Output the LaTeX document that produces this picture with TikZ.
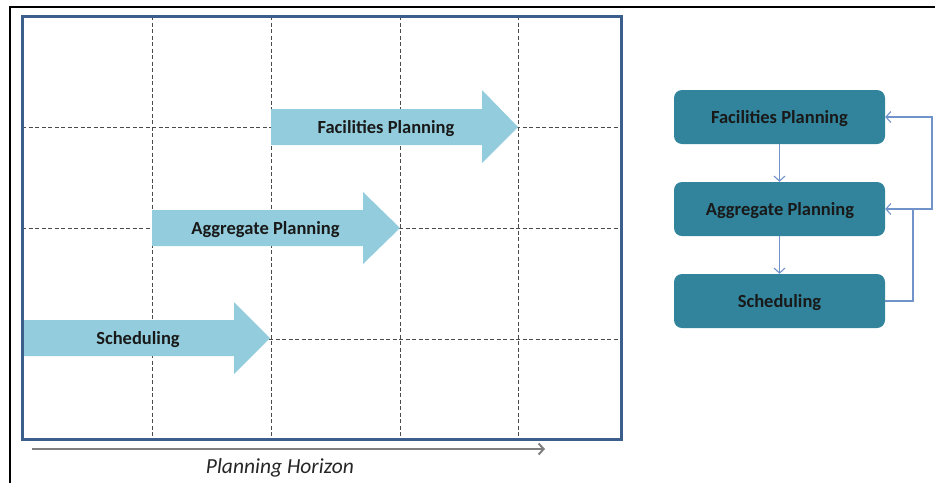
\documentclass[tikz,border=0pt]{standalone}
\usepackage{fontspec}
\setmainfont{Carlito}
\usetikzlibrary{arrows.meta}
\definecolor{framebl}{HTML}{3B5E8C}
\definecolor{arrowbl}{HTML}{93CDDD}
\definecolor{boxteal}{HTML}{31849B}
\definecolor{connbl}{HTML}{7094CA}
\definecolor{gridgr}{HTML}{4A4A4A}
\definecolor{horgr}{HTML}{7F7F7F}
\tikzset{
  gridline/.style={gridgr, line width=1pt, dash pattern=on 4pt off 2.5pt},
  bigarrow/.style={fill=arrowbl, draw=none},
  arrlabel/.style={font=\bfseries\fontsize{18.5}{20}\selectfont, text=black!90, inner sep=0pt, anchor=base},
  stagebox/.style={fill=boxteal, draw=none, rounded corners=8pt, minimum width=211pt, minimum height=54pt},
  boxlabel/.style={font=\bfseries\fontsize{18.5}{20}\selectfont, text=black!90, inner sep=0pt, anchor=base},
  conn/.style={connbl, line width=1.1pt, -{Straight Barb[length=5pt,width=11pt]}},
  connplain/.style={connbl, line width=1.1pt},
}
\begin{document}
\begin{tikzpicture}[x=1pt,y=-1pt]
\useasboundingbox (0,0) rectangle (935,483);
% outer frame (top and left)
\draw[black, line width=2pt] (10,483) -- (10,7) -- (935,7);
% grid
\foreach \gx in {152,271,400,518} \draw[gridline] (\gx,16) -- (\gx,439);
\foreach \gy in {127,228,339} \draw[gridline] (22,\gy) -- (621,\gy);
% big arrows
\fill[bigarrow] (271,109) -- (482,109) -- (482,90) -- (518,127) -- (482,163) -- (482,145) -- (271,145) -- cycle;
\fill[bigarrow] (152,210) -- (363,210) -- (363,192) -- (400,228) -- (363,264) -- (363,246) -- (152,246) -- cycle;
\fill[bigarrow] (22,320) -- (234,320) -- (234,302) -- (270,338) -- (234,374) -- (234,356) -- (22,356) -- cycle;
\node[arrlabel] (lf) at (386,133) {Facilities Planning};
\node[arrlabel] (la) at (265.5,234) {Aggregate Planning};
\node[arrlabel] (ls) at (138,344) {Scheduling};
% blue frame
\draw[framebl, line width=3pt] (22,16) rectangle (621,439);
% planning horizon
\coordinate (h1) at (32,449);
\coordinate (h2) at (545,449);
\draw[horgr, line width=2pt, -{Straight Barb[length=5pt,width=11pt]}] (h1) -- (h2);
\node[font=\itshape\fontsize{21.5}{23}\selectfont, text=black!85, inner sep=0pt, anchor=base] (ph) at (280,473) {Planning Horizon};
% right side boxes
\node[stagebox] (f) at (779.5,117) {};
\node[stagebox] (a) at (779.5,209) {};
\node[stagebox] (s) at (779.5,301) {};
\node[boxlabel] (ft) at (779.5,123) {Facilities Planning};
\node[boxlabel] (at) at (780,215) {Aggregate Planning};
\node[boxlabel] (st) at (779.5,307) {Scheduling};
\draw[conn] (f.south) -- (a.north);
\draw[conn] (a.south) -- (s.north);
\coordinate (j) at (913,209);
\draw[connplain] (s.east) -| (j);
\draw[conn] (j) -- (a.east);
\draw[conn] (j) -- ++(19,0) |- (f.east);
\end{tikzpicture}
\end{document}
